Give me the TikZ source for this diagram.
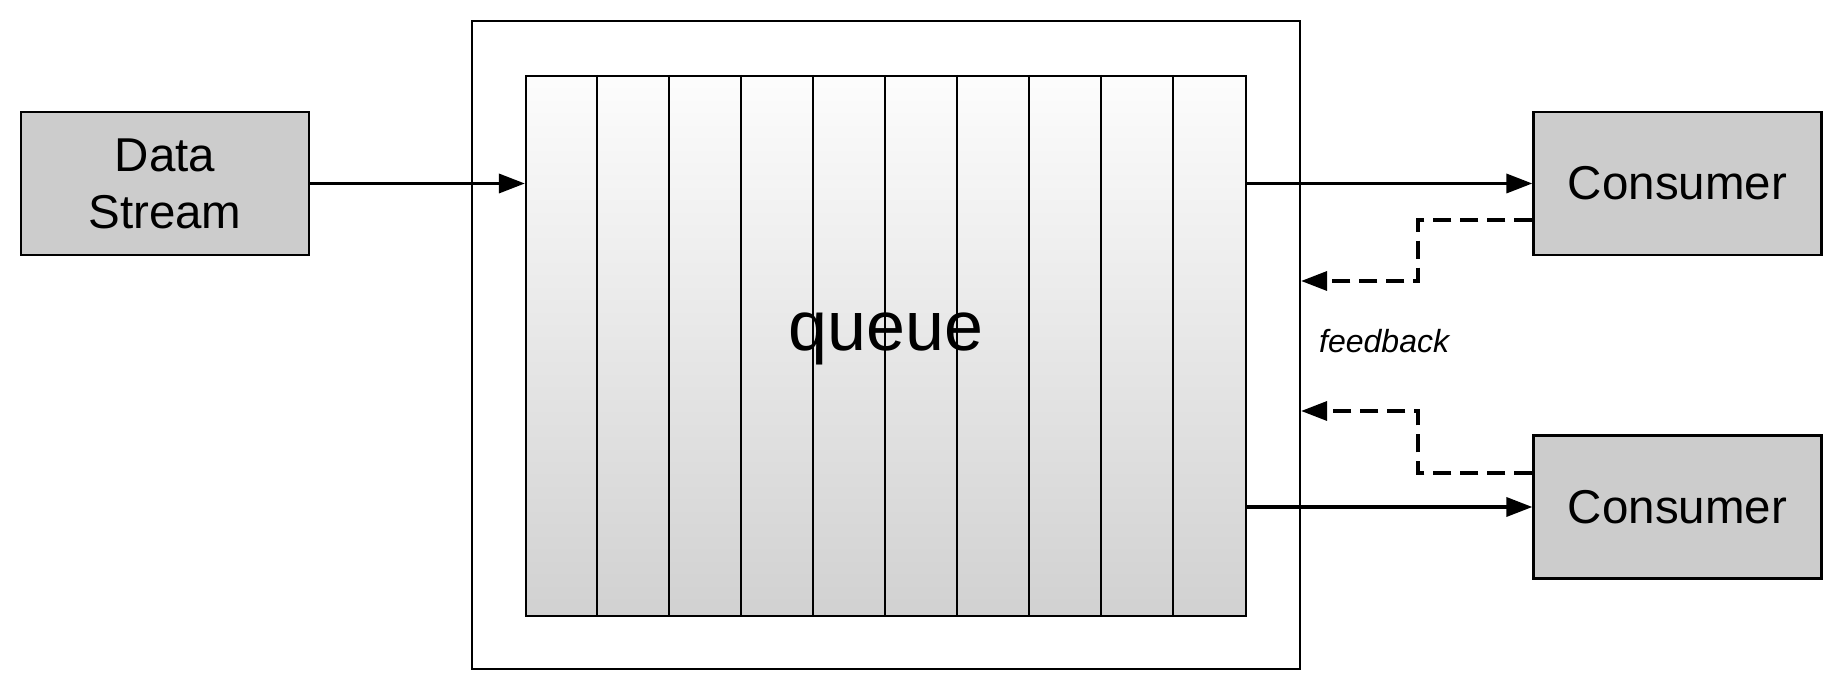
\documentclass[tikz,border=0pt]{standalone}
\usepackage{fontspec}
\setmainfont{Liberation Sans}
\usetikzlibrary{arrows.meta,calc}
\begin{document}
\begin{tikzpicture}[x=1pt,y=1pt,
  graybox/.style={draw=black,line width=2.3pt,fill=black!20,minimum width=288pt,minimum height=143pt,inner sep=0pt,font=\fontsize{47.5}{57}\selectfont,align=center},
  flow/.style={line width=3.5pt,-{Triangle[length=26pt,width=19pt]}},
  fb/.style={line width=3.5pt,dash pattern=on 18pt off 9pt,-{Triangle[length=26pt,width=19pt]}}]
\useasboundingbox (0,0) rectangle (1844,692);
% outer container
\node[draw=black,line width=2.2pt,minimum width=828pt,minimum height=648pt,inner sep=0pt] (outer) at (886,347) {};
% queue
\node[draw=black,line width=2.2pt,top color=black!1,bottom color=black!18,minimum width=720pt,minimum height=540pt,inner sep=0pt] (queue) at (886,346) {};
\foreach \i in {1,...,9} {
  \draw[line width=2.2pt] ($(queue.north west)+(72*\i,0)$) -- ($(queue.south west)+(72*\i,0)$);
}
\node[font=\fontsize{70}{80}\selectfont,anchor=base] (qlabel) at (886,341) {queue};
% boxes
\node[graybox] (data) at (165,508.5) {Data\\Stream};
\node[graybox] (c1) at (1677.5,508.5) {Consumer};
\node[graybox] (c2) at (1677.5,185) {Consumer};
% flows
\draw[flow] (data.east) -- (data.east -| queue.west);
\draw[flow] (queue.east |- c1.west) -- (c1.west);
\draw[flow] (queue.east |- c2.west) -- (c2.west);
% feedback
\coordinate (k1) at (1418,472);
\coordinate (k2) at (1418,411);
\coordinate (k3) at (1418,219);
\coordinate (k4) at (1418,281);
\draw[fb] (c1.west |- k1) -- (k1) -- (k2) -- (k2 -| outer.east);
\draw[fb] (c2.west |- k3) -- (k3) -- (k4) -- (k4 -| outer.east);
\node[font=\fontsize{32}{36}\selectfont\itshape,anchor=base west,inner sep=0pt] (fbl) at (1319,339) {feedback};
\end{tikzpicture}
\end{document}
